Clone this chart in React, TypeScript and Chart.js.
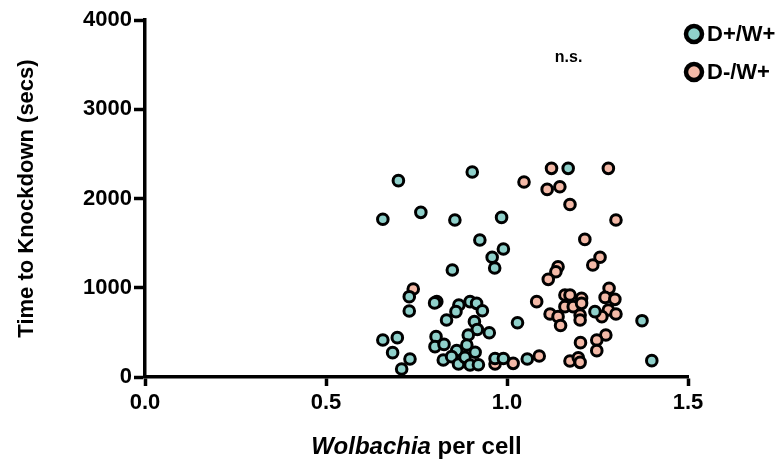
import React, { useEffect, useRef } from "react";
import { Chart, registerables } from "chart.js";

Chart.register(...registerables);

// D+/W+ (teal)
const teal_x = [0.70, 0.904, 0.657, 0.762, 0.856, 0.985, 0.925, 0.99, 0.959, 0.966, 0.849, 0.730, 0.730, 0.806, 0.800, 0.867, 0.898, 0.916, 0.932, 0.859, 0.833, 0.910, 0.918, 0.951, 0.893, 1.029, 0.657, 0.697, 0.804, 0.801, 0.826, 0.889, 0.684, 0.732, 0.709, 0.861, 0.912, 0.824, 0.847, 0.866, 0.884, 0.898, 0.921, 0.967, 0.990, 1.056, 1.169, 1.243, 1.373, 1.40];
const teal_y = [2200, 2297, 1767, 1845, 1759, 1788, 1535, 1434, 1341, 1221, 1199, 900, 740, 844, 830, 807, 844, 825, 743, 732, 639, 620, 533, 496, 470, 608, 415, 441, 452, 340, 365, 358, 273, 202, 90, 295, 277, 190, 228, 146, 220, 134, 138, 208, 208, 202, 2338, 732, 631, 183];

// D-/W+ (salmon)
const salmon_x = [0.741, 1.047, 1.082, 0.967, 1.017, 1.089, 1.123, 1.280, 1.111, 1.146, 1.174, 1.301, 1.215, 1.257, 1.237, 1.141, 1.135, 1.114, 1.282, 1.160, 1.174, 1.206, 1.271, 1.298, 1.160, 1.183, 1.206, 1.280, 1.301, 1.119, 1.141, 1.202, 1.202, 1.262, 1.148, 1.273, 1.248, 1.203, 1.248, 1.174, 1.197, 1.202];
const salmon_y = [986, 2185, 844, 146, 153, 235, 2338, 2338, 2102, 2131, 1933, 1759, 1542, 1341, 1255, 1236, 1180, 1094, 993, 919, 919, 881, 892, 870, 788, 788, 825, 751, 706, 706, 676, 695, 639, 676, 577, 470, 415, 385, 295, 179, 216, 164];

const seriesNames = ["D+/W+", "D-/W+"];
const seriesColors = ["#8fd0ca", "#f3b9a7"];
const yTicks = [0, 1000, 2000, 3000, 4000];
const xTicks = [0.0, 0.5, 1.0, 1.5];
const yTitle = "Time to Knockdown (secs)";
const xTitleItalic = "Wolbachia";
const xTitleRest = " per cell";
const annotation = "n.s.";
const annotationPos = { x: 1.17, y: 3580 };

const FONT = "'Liberation Sans', Arial, Helvetica, sans-serif";

export default function App() {
  const ref = useRef<HTMLCanvasElement>(null);

  useEffect(() => {
    if (!ref.current) return;
    const overlay = {
      id: "overlay",
      afterDraw(chart: any) {
        const ctx = chart.ctx;
        const xs = chart.scales.x;
        const ys = chart.scales.y;
        ctx.save();
        ctx.fillStyle = "#000";
        ctx.textBaseline = "middle";
        const f1 = `italic bold 24px ${FONT}`;
        const f2 = `bold 24px ${FONT}`;
        ctx.font = f1;
        const w1 = ctx.measureText(xTitleItalic).width;
        ctx.font = f2;
        const w2 = ctx.measureText(xTitleRest).width;
        const cx = (xs.left + xs.right) / 2;
        const sx = cx - (w1 + w2) / 2;
        ctx.textAlign = "left";
        ctx.font = f1;
        ctx.fillText(xTitleItalic, sx, 447);
        ctx.font = f2;
        ctx.fillText(xTitleRest, sx + w1, 447);
        // annotation
        ctx.font = `bold 16px ${FONT}`;
        ctx.textAlign = "center";
        ctx.fillText(annotation, xs.getPixelForValue(annotationPos.x), ys.getPixelForValue(annotationPos.y));
        // legend
        const ly = [34, 72];
        seriesNames.forEach((name, i) => {
          ctx.beginPath();
          ctx.arc(694, ly[i], 8, 0, Math.PI * 2);
          ctx.fillStyle = seriesColors[i];
          ctx.fill();
          ctx.lineWidth = 4.5;
          ctx.strokeStyle = "#000";
          ctx.stroke();
          ctx.fillStyle = "#000";
          ctx.font = `bold 22px ${FONT}`;
          ctx.textAlign = "left";
          ctx.fillText(name, 707, ly[i] + 1);
        });
        ctx.restore();
      },
    };

    const tickFont = { family: FONT, weight: "bold" as const, size: 22 };

    const chart = new Chart(ref.current, {
      type: "scatter",
      data: {
        datasets: [
          {
            label: seriesNames[0],
            data: teal_x.map((x, i) => ({ x, y: teal_y[i] })),
            backgroundColor: seriesColors[0],
            borderColor: "#000",
            borderWidth: 3,
            pointRadius: 5.3,
          },
          {
            label: seriesNames[1],
            data: salmon_x.map((x, i) => ({ x, y: salmon_y[i] })),
            backgroundColor: seriesColors[1],
            borderColor: "#000",
            borderWidth: 3,
            pointRadius: 5.3,
          },
        ],
      },
      options: {
        responsive: false,
        animation: false,
        layout: { padding: { top: 20, right: 96, left: 0, bottom: 0 } },
        plugins: { legend: { display: false }, tooltip: { enabled: false } },
        scales: {
          x: {
            type: "linear",
            min: 0,
            max: 1.5,
            afterFit: (s: any) => { s.height = 90; },
            afterBuildTicks: (s: any) => { s.ticks = xTicks.map((v) => ({ value: v })); },
            border: { display: true, color: "#000", width: 3.5 },
            grid: { display: true, drawOnChartArea: false, drawTicks: true, tickLength: 9, tickColor: "#000", tickWidth: 3.5 },
            ticks: {
              color: "#000",
              font: tickFont,
              padding: 4,
              callback: (v: any) => Number(v).toFixed(1),
            },
          },
          y: {
            type: "linear",
            min: 0,
            max: 4000,
            afterFit: (s: any) => { s.width = 145; },
            afterBuildTicks: (s: any) => { s.ticks = yTicks.map((v) => ({ value: v })); },
            border: { display: true, color: "#000", width: 3.5 },
            grid: { display: true, drawOnChartArea: false, drawTicks: true, tickLength: 11, tickColor: "#000", tickWidth: 3.5 },
            ticks: {
              color: "#000",
              font: tickFont,
              padding: 2,
              callback: (v: any) => String(v),
            },
            title: {
              display: true,
              text: yTitle,
              color: "#000",
              font: { family: FONT, weight: "bold", size: 22 },
              padding: { top: 14, bottom: 0 },
            },
          },
        },
      },
      plugins: [overlay],
    });
    return () => chart.destroy();
  }, []);

  return (
    <div style={{ position: "fixed", left: 0, top: 0, width: 784, height: 467, background: "#fff" }}>
      <canvas ref={ref} width={784} height={467} style={{ display: "block" }} />
    </div>
  );
}
